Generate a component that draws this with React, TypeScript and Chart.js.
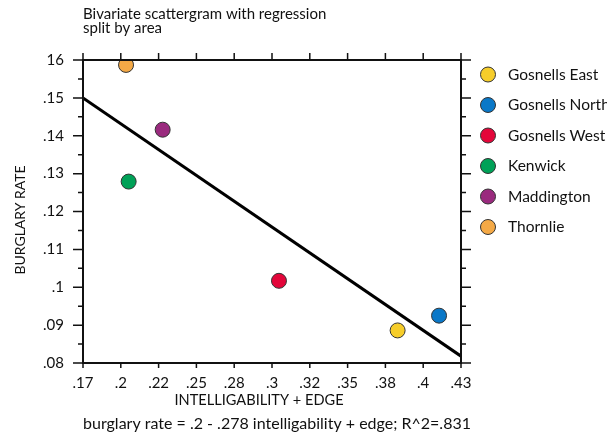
import React, { useEffect, useRef } from "react";
import { Chart, registerables } from "chart.js";

Chart.register(...registerables);

const areas = ["Gosnells East", "Gosnells North", "Gosnells West", "Kenwick", "Maddington", "Thornlie"];
const intelligibility = [0.3864, 0.4149, 0.3048, 0.2014, 0.2248, 0.1996];
const burglaryRate = [0.0886, 0.0925, 0.1017, 0.1279, 0.1416, 0.1587];
const areaColors = ["#F6CD2A", "#0A78C8", "#E3063A", "#00A157", "#9A2A7E", "#F4A946"];

const regressionX = [0.17, 0.43];
const regressionY = [0.15, 0.0818];

const xMin = 0.17;
const xMax = 0.43;
const xTickLabels = [".17", ".2", ".22", ".25", ".28", ".3", ".32", ".35", ".38", ".4", ".43"];
const yMin = 0.08;
const yMax = 0.16;
const yTickLabels = [".08", ".09", ".1", ".11", ".12", ".13", ".14", ".15", "16"];

const titleLines = ["Bivariate scattergram with regression", "split by area"];
const xTitle = "INTELLIGABILITY + EDGE";
const yTitle = "BURGLARY RATE";
const footnote = "burglary rate = .2 - .278 intelligability + edge; R^2=.831";

const FONT = "Lato, 'Open Sans', sans-serif";

const framePlugin = {
  id: "frameAndText",
  afterDraw(chart: any) {
    const { ctx, chartArea } = chart;
    const { left, right, top, bottom } = chartArea;
    const xs = chart.scales.x;
    const ys = chart.scales.y;
    ctx.save();
    ctx.strokeStyle = "#111";
    ctx.lineWidth = 2;
    ctx.strokeRect(left, top, right - left, bottom - top);
    ctx.lineWidth = 1.5;
    ctx.beginPath();
    const xStep = (xMax - xMin) / (xTickLabels.length - 1);
    for (let i = 0; i < xTickLabels.length; i++) {
      const px = xs.getPixelForValue(xMin + i * xStep);
      ctx.moveTo(px, bottom);
      ctx.lineTo(px, bottom + 5);
      ctx.moveTo(px, top);
      ctx.lineTo(px, top - 7);
    }
    const yStep = (yMax - yMin) / (yTickLabels.length - 1);
    for (let i = 0; i < yTickLabels.length; i++) {
      const py = ys.getPixelForValue(yMin + i * yStep);
      ctx.moveTo(left, py);
      ctx.lineTo(left - 10, py);
      ctx.moveTo(right, py);
      ctx.lineTo(right + 10, py);
      if (i < yTickLabels.length - 1) {
        const pm = ys.getPixelForValue(yMin + (i + 0.5) * yStep);
        ctx.moveTo(left, pm);
        ctx.lineTo(left - 5, pm);
        ctx.moveTo(right, pm);
        ctx.lineTo(right + 5, pm);
      }
    }
    ctx.stroke();

    ctx.fillStyle = "#111";
    ctx.font = `15px ${FONT}`;
    ctx.textBaseline = "middle";
    ctx.textAlign = "left";
    titleLines.forEach((t, i) => ctx.fillText(t, left, 14 + i * 14));

    ctx.textAlign = "center";
    ctx.font = `14.6px ${FONT}`;
    ctx.fillText(xTitle, 259, 400);
    ctx.font = `16px ${FONT}`;
    ctx.fillText(footnote, 277, 424);

    ctx.save();
    ctx.font = `14px ${FONT}`;
    ctx.translate(20, 220);
    ctx.rotate(-Math.PI / 2);
    ctx.fillText(yTitle, 0, 0);
    ctx.restore();

    // legend
    ctx.textAlign = "left";
    ctx.font = `15.5px ${FONT}`;
    chart.data.datasets.forEach((ds: any, i: number) => {
      if (ds.isRegression) return;
      const cy = 74.5 + i * 30.5;
      ctx.beginPath();
      ctx.arc(488, cy, 7.5, 0, Math.PI * 2);
      ctx.fillStyle = ds.backgroundColor;
      ctx.fill();
      ctx.lineWidth = 1;
      ctx.strokeStyle = "#333";
      ctx.stroke();
      ctx.fillStyle = "#111";
      ctx.fillText(ds.label, 508, cy);
    });
    ctx.restore();
  },
};

export default function App() {
  const ref = useRef<HTMLCanvasElement>(null);
  useEffect(() => {
    document.body.style.margin = "0";
    const datasets: any[] = areas.map((a, i) => ({
      type: "scatter",
      label: a,
      data: [{ x: intelligibility[i], y: burglaryRate[i] }],
      backgroundColor: areaColors[i],
      borderColor: "#333",
      borderWidth: 1,
      pointRadius: 7.5,
    }));
    datasets.push({
      type: "line",
      label: "regression",
      isRegression: true,
      data: regressionX.map((x, i) => ({ x, y: regressionY[i] })),
      borderColor: "#000",
      borderWidth: 3,
      pointRadius: 0,
      fill: false,
      order: 10,
    });
    const chart = new Chart(ref.current!, {
      type: "scatter",
      data: { datasets },
      options: {
        responsive: false,
        animation: false,
        layout: { padding: { top: 60, right: 146, left: 0, bottom: 0 } },
        plugins: { legend: { display: false }, tooltip: { enabled: false } },
        scales: {
          x: {
            type: "linear",
            min: xMin,
            max: xMax,
            afterBuildTicks: (s: any) => {
              const step = (xMax - xMin) / (xTickLabels.length - 1);
              s.ticks = xTickLabels.map((_, i) => ({ value: xMin + i * step }));
            },
            afterFit: (s: any) => { s.height = 73; },
            grid: { display: false, drawTicks: false },
            border: { display: false },
            ticks: {
              autoSkip: false,
              maxRotation: 0,
              padding: 11,
              color: "#111",
              font: { family: FONT, size: 15 },
              callback: (_v: any, i: number) => xTickLabels[i],
            },
          },
          y: {
            type: "linear",
            min: yMin,
            max: yMax,
            afterBuildTicks: (s: any) => {
              const step = (yMax - yMin) / (yTickLabels.length - 1);
              s.ticks = yTickLabels.map((_, i) => ({ value: yMin + i * step }));
            },
            afterFit: (s: any) => { s.width = 83; },
            grid: { display: false, drawTicks: false },
            border: { display: false },
            ticks: {
              autoSkip: false,
              padding: 19,
              color: "#111",
              font: { family: FONT, size: 15 },
              callback: (_v: any, i: number) => yTickLabels[i],
            },
          },
        },
      } as any,
      plugins: [framePlugin],
    });
    return () => chart.destroy();
  }, []);
  return (
    <div style={{ position: "absolute", left: 0, top: 0 }}>
      <canvas ref={ref} width={607} height={436} style={{ display: "block" }} />
    </div>
  );
}
